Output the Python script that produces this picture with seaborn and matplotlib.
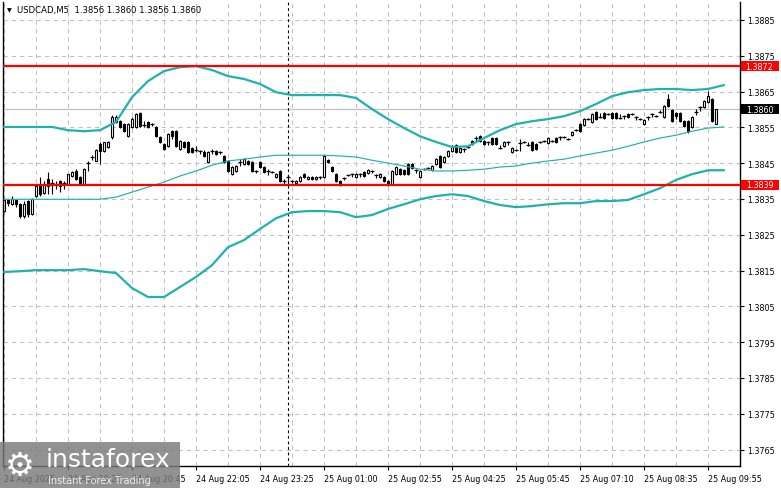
import numpy as np
import pandas as pd
import matplotlib
matplotlib.use('Agg')
import matplotlib.pyplot as plt
import matplotlib.transforms as mtransforms
from matplotlib.patches import Rectangle
import seaborn as sns

# USDCAD M5 candles
opens = [1.38316, 1.38347, 1.38335, 1.38347, 1.38335, 1.38302, 1.38344, 1.38308, 1.38358, 1.38386,
         1.38366, 1.38405, 1.38394, 1.38391, 1.38400, 1.38394, 1.38391, 1.38414, 1.38428, 1.38411,
         1.38391, 1.38450, 1.38467, 1.38456, 1.38503, 1.38484, 1.38495, 1.38523, 1.38565, 1.38567,
         1.38559, 1.38525, 1.38551, 1.38551, 1.38590, 1.38556, 1.38565, 1.38559, 1.38551, 1.38523,
         1.38503, 1.38497, 1.38539, 1.38539, 1.38489, 1.38509, 1.38509, 1.38492, 1.38486, 1.38484,
         1.38481, 1.38453, 1.38484, 1.38484, 1.38481, 1.38470, 1.38456, 1.38419, 1.38428, 1.38453,
         1.38447, 1.38456, 1.38453, 1.38428, 1.38453, 1.38439, 1.38428, 1.38425, 1.38411, 1.38428,
         1.38400, 1.38411, 1.38400, 1.38394, 1.38400, 1.38419, 1.38405, 1.38411, 1.38405, 1.38411,
         1.38411, 1.38458, 1.38439, 1.38419, 1.38400, 1.38408, 1.38416, 1.38419, 1.38411, 1.38419,
         1.38425, 1.38422, 1.38428, 1.38416, 1.38411, 1.38411, 1.38400, 1.38391, 1.38419, 1.38433,
         1.38430, 1.38447, 1.38447, 1.38430, 1.38411, 1.38433, 1.38436, 1.38430, 1.38447, 1.38470,
         1.38453, 1.38470, 1.38484, 1.38500, 1.38481, 1.38489, 1.38495, 1.38511, 1.38520, 1.38525,
         1.38511, 1.38509, 1.38520, 1.38520, 1.38492, 1.38497, 1.38509, 1.38481, 1.38486, 1.38506,
         1.38509, 1.38500, 1.38509, 1.38503, 1.38509, 1.38511, 1.38506, 1.38511, 1.38520, 1.38523,
         1.38523, 1.38517, 1.38528, 1.38542, 1.38559, 1.38556, 1.38573, 1.38565, 1.38592, 1.38578,
         1.38590, 1.38587, 1.38590, 1.38590, 1.38576, 1.38581, 1.38587, 1.38587, 1.38578, 1.38573,
         1.38559, 1.38578, 1.38587, 1.38581, 1.38592, 1.38578, 1.38629, 1.38598, 1.38590, 1.38590,
         1.38567, 1.38567, 1.38551, 1.38592, 1.38606, 1.38606, 1.38620, 1.38629, 1.38560]
closes = [1.38347, 1.38338, 1.38349, 1.38335, 1.38302, 1.38335, 1.38308, 1.38349, 1.38386, 1.38363,
          1.38391, 1.38386, 1.38394, 1.38391, 1.38386, 1.38394, 1.38419, 1.38425, 1.38405, 1.38391,
          1.38433, 1.38450, 1.38467, 1.38486, 1.38484, 1.38509, 1.38509, 1.38578, 1.38578, 1.38551,
          1.38539, 1.38559, 1.38573, 1.38587, 1.38553, 1.38556, 1.38551, 1.38559, 1.38525, 1.38509,
          1.38489, 1.38531, 1.38525, 1.38497, 1.38511, 1.38495, 1.38481, 1.38481, 1.38486, 1.38484,
          1.38470, 1.38481, 1.38484, 1.38475, 1.38481, 1.38453, 1.38428, 1.38439, 1.38442, 1.38453,
          1.38461, 1.38447, 1.38428, 1.38428, 1.38439, 1.38425, 1.38428, 1.38425, 1.38419, 1.38400,
          1.38400, 1.38411, 1.38400, 1.38400, 1.38411, 1.38411, 1.38411, 1.38405, 1.38411, 1.38411,
          1.38470, 1.38453, 1.38428, 1.38400, 1.38391, 1.38408, 1.38416, 1.38419, 1.38419, 1.38419,
          1.38414, 1.38430, 1.38428, 1.38416, 1.38419, 1.38400, 1.38391, 1.38428, 1.38439, 1.38419,
          1.38419, 1.38419, 1.38436, 1.38430, 1.38428, 1.38433, 1.38436, 1.38442, 1.38461, 1.38439,
          1.38467, 1.38484, 1.38497, 1.38481, 1.38492, 1.38489, 1.38495, 1.38503, 1.38520, 1.38511,
          1.38503, 1.38509, 1.38503, 1.38503, 1.38492, 1.38509, 1.38509, 1.38492, 1.38486, 1.38506,
          1.38509, 1.38500, 1.38486, 1.38489, 1.38509, 1.38511, 1.38520, 1.38511, 1.38509, 1.38523,
          1.38523, 1.38517, 1.38537, 1.38542, 1.38539, 1.38573, 1.38573, 1.38587, 1.38573, 1.38578,
          1.38576, 1.38587, 1.38576, 1.38576, 1.38576, 1.38581, 1.38578, 1.38587, 1.38578, 1.38573,
          1.38570, 1.38578, 1.38587, 1.38581, 1.38592, 1.38609, 1.38609, 1.38567, 1.38581, 1.38567,
          1.38553, 1.38539, 1.38578, 1.38592, 1.38606, 1.38623, 1.38637, 1.38567, 1.38600]
highs = [1.38349, 1.38349, 1.38358, 1.38349, 1.38338, 1.38344, 1.38347, 1.38352, 1.38391, 1.38411,
         1.38400, 1.38425, 1.38405, 1.38400, 1.38403, 1.38400, 1.38419, 1.38428, 1.38433, 1.38414,
         1.38436, 1.38456, 1.38472, 1.38489, 1.38509, 1.38509, 1.38511, 1.38584, 1.38584, 1.38570,
         1.38562, 1.38562, 1.38578, 1.38590, 1.38592, 1.38567, 1.38567, 1.38562, 1.38553, 1.38525,
         1.38506, 1.38534, 1.38542, 1.38542, 1.38514, 1.38511, 1.38511, 1.38495, 1.38497, 1.38486,
         1.38486, 1.38484, 1.38489, 1.38486, 1.38484, 1.38472, 1.38458, 1.38442, 1.38444, 1.38461,
         1.38464, 1.38458, 1.38456, 1.38430, 1.38456, 1.38442, 1.38433, 1.38428, 1.38422, 1.38430,
         1.38405, 1.38416, 1.38403, 1.38403, 1.38414, 1.38422, 1.38414, 1.38414, 1.38414, 1.38414,
         1.38472, 1.38461, 1.38442, 1.38422, 1.38403, 1.38411, 1.38419, 1.38422, 1.38422, 1.38422,
         1.38428, 1.38433, 1.38430, 1.38419, 1.38422, 1.38414, 1.38403, 1.38430, 1.38442, 1.38436,
         1.38433, 1.38450, 1.38450, 1.38433, 1.38430, 1.38436, 1.38439, 1.38444, 1.38464, 1.38472,
         1.38470, 1.38486, 1.38500, 1.38503, 1.38495, 1.38492, 1.38497, 1.38514, 1.38525, 1.38528,
         1.38514, 1.38511, 1.38523, 1.38523, 1.38500, 1.38511, 1.38511, 1.38495, 1.38489, 1.38517,
         1.38511, 1.38509, 1.38511, 1.38506, 1.38511, 1.38514, 1.38523, 1.38514, 1.38523, 1.38525,
         1.38525, 1.38520, 1.38539, 1.38545, 1.38562, 1.38576, 1.38576, 1.38590, 1.38595, 1.38590,
         1.38592, 1.38590, 1.38592, 1.38592, 1.38587, 1.38584, 1.38590, 1.38590, 1.38581, 1.38576,
         1.38573, 1.38581, 1.38590, 1.38584, 1.38598, 1.38612, 1.38643, 1.38601, 1.38592, 1.38592,
         1.38570, 1.38570, 1.38581, 1.38601, 1.38609, 1.38626, 1.38651, 1.38632, 1.38600]
lows = [1.38313, 1.38330, 1.38333, 1.38327, 1.38296, 1.38296, 1.38299, 1.38305, 1.38355, 1.38358,
        1.38363, 1.38363, 1.38363, 1.38377, 1.38369, 1.38377, 1.38389, 1.38411, 1.38403, 1.38389,
        1.38389, 1.38428, 1.38458, 1.38456, 1.38447, 1.38481, 1.38492, 1.38517, 1.38562, 1.38548,
        1.38537, 1.38523, 1.38548, 1.38548, 1.38551, 1.38551, 1.38548, 1.38553, 1.38523, 1.38506,
        1.38486, 1.38495, 1.38517, 1.38495, 1.38486, 1.38492, 1.38478, 1.38478, 1.38481, 1.38475,
        1.38467, 1.38450, 1.38475, 1.38472, 1.38475, 1.38450, 1.38425, 1.38416, 1.38425, 1.38442,
        1.38444, 1.38444, 1.38425, 1.38422, 1.38436, 1.38422, 1.38416, 1.38422, 1.38408, 1.38397,
        1.38391, 1.38389, 1.38394, 1.38389, 1.38397, 1.38408, 1.38403, 1.38403, 1.38403, 1.38405,
        1.38408, 1.38450, 1.38425, 1.38397, 1.38386, 1.38403, 1.38414, 1.38411, 1.38408, 1.38411,
        1.38411, 1.38419, 1.38422, 1.38408, 1.38408, 1.38397, 1.38386, 1.38389, 1.38416, 1.38416,
        1.38416, 1.38416, 1.38433, 1.38422, 1.38408, 1.38430, 1.38433, 1.38428, 1.38444, 1.38436,
        1.38450, 1.38467, 1.38481, 1.38478, 1.38478, 1.38481, 1.38492, 1.38500, 1.38509, 1.38509,
        1.38500, 1.38500, 1.38500, 1.38500, 1.38489, 1.38495, 1.38500, 1.38478, 1.38484, 1.38484,
        1.38506, 1.38497, 1.38484, 1.38486, 1.38506, 1.38509, 1.38503, 1.38509, 1.38506, 1.38514,
        1.38520, 1.38514, 1.38525, 1.38539, 1.38537, 1.38553, 1.38570, 1.38562, 1.38570, 1.38576,
        1.38573, 1.38584, 1.38573, 1.38573, 1.38573, 1.38573, 1.38576, 1.38584, 1.38570, 1.38570,
        1.38556, 1.38570, 1.38578, 1.38578, 1.38590, 1.38576, 1.38606, 1.38565, 1.38573, 1.38565,
        1.38551, 1.38534, 1.38548, 1.38584, 1.38595, 1.38604, 1.38618, 1.38565, 1.38560]

# Bollinger bands, read every 4th bar
band_bars = list(range(0, 181, 4))
upper_band = [1.38551, 1.38551, 1.38551, 1.38551, 1.38542, 1.38539, 1.38542, 1.38565, 1.38634, 1.38679,
              1.38707, 1.38718, 1.38721, 1.38710, 1.38693, 1.38685, 1.38671, 1.38648, 1.38640, 1.38640,
              1.38640, 1.38640, 1.38632, 1.38601, 1.38573, 1.38548, 1.38525, 1.38509, 1.38495, 1.38497,
              1.38520, 1.38542, 1.38559, 1.38567, 1.38573, 1.38581, 1.38595, 1.38615, 1.38637, 1.38648,
              1.38654, 1.38657, 1.38657, 1.38654, 1.38657, 1.38668]
middle_band = [1.38349, 1.38349, 1.38349, 1.38349, 1.38349, 1.38349, 1.38349, 1.38355, 1.38369, 1.38383,
               1.38397, 1.38414, 1.38428, 1.38444, 1.38456, 1.38461, 1.38467, 1.38472, 1.38472, 1.38472,
               1.38472, 1.38470, 1.38467, 1.38458, 1.38450, 1.38442, 1.38433, 1.38428, 1.38428, 1.38430,
               1.38433, 1.38439, 1.38442, 1.38450, 1.38456, 1.38461, 1.38470, 1.38478, 1.38486, 1.38497,
               1.38509, 1.38520, 1.38528, 1.38539, 1.38548, 1.38551]
lower_band = [1.38146, 1.38148, 1.38151, 1.38151, 1.38151, 1.38154, 1.38148, 1.38143, 1.38101, 1.38076,
              1.38076, 1.38104, 1.38132, 1.38165, 1.38215, 1.38235, 1.38266, 1.38296, 1.38313, 1.38316,
              1.38316, 1.38313, 1.38299, 1.38305, 1.38322, 1.38335, 1.38349, 1.38358, 1.38363, 1.38358,
              1.38344, 1.38333, 1.38327, 1.38330, 1.38335, 1.38338, 1.38338, 1.38344, 1.38344, 1.38347,
              1.38363, 1.38380, 1.38403, 1.38419, 1.38430, 1.38430]

time_labels = ['24 Aug 2025', '24 Aug 19:25', '24 Aug 20:45', '24 Aug 22:05', '24 Aug 23:25',
               '25 Aug 01:00', '25 Aug 02:55', '25 Aug 04:25', '25 Aug 05:45', '25 Aug 07:10',
               '25 Aug 08:35', '25 Aug 09:55']
label_bars = [0, 16, 32, 48, 64, 80, 96, 112, 128, 144, 160, 176]
price_ticks = [1.3765, 1.3775, 1.3785, 1.3795, 1.3805, 1.3815, 1.3825,
               1.3835, 1.3845, 1.3855, 1.3865, 1.3875, 1.3885]
resistance = 1.3872
support = 1.3839
last_price = 1.3860
day_break_bar = 71

df = pd.DataFrame({'open': opens, 'high': highs, 'low': lows, 'close': closes})
df['bar'] = np.arange(len(df))
bands = pd.DataFrame({'bar': band_bars, 'upper': upper_band,
                      'middle': middle_band, 'lower': lower_band})

sns.set_style('white')
plt.rcParams['font.family'] = ['DejaVu Sans']

fig = plt.figure(figsize=(7.81, 4.89), dpi=100)
ax = fig.add_axes([3/781, 22/489, 737/781, 464/489])

grid_kw = dict(color='#c0c0c0', lw=0.75, ls=(0, (4, 4)))
ax.set_xticks(label_bars)
ax.set_xticks(list(range(8, 181, 8)), minor=True)
ax.set_yticks(price_ticks)
ax.grid(True, which='both', **grid_kw)
ax.set_axisbelow(True)

ax.axhline(last_price, color='#c0c0c0', lw=0.9, zorder=1)
ax.axvline(day_break_bar, color='black', lw=0.8, ls=(0, (2.5, 2.5)), zorder=1.5)

# candles
ax.vlines(df['bar'], df['low'], df['high'], color='black', lw=0.8, zorder=2)
up = df[df['close'] > df['open']]
down = df[df['close'] < df['open']]
doji = df[df['close'] == df['open']]
ax.bar(up['bar'], up['close'] - up['open'], bottom=up['open'], width=0.68,
       color='white', edgecolor='black', lw=0.8, zorder=2.5)
ax.bar(down['bar'], down['open'] - down['close'], bottom=down['close'], width=0.68,
       color='black', edgecolor='black', lw=0.8, zorder=2.5)
ax.hlines(doji['close'], doji['bar'] - 0.4, doji['bar'] + 0.4, color='black', lw=0.9, zorder=2.5)

teal = '#20b2aa'
sns.lineplot(data=bands, x='bar', y='upper', ax=ax, color=teal, lw=1.6, zorder=3)
sns.lineplot(data=bands, x='bar', y='middle', ax=ax, color=teal, lw=0.85, zorder=3)
sns.lineplot(data=bands, x='bar', y='lower', ax=ax, color=teal, lw=1.6, zorder=3)

ax.axhline(resistance, color='red', lw=1.6, zorder=4)
ax.axhline(support, color='red', lw=1.6, zorder=4)

ax.set_xlim(-0.25, 184)
ax.set_ylim(1.37604, 1.38900)
ax.set_xlabel('')
ax.set_ylabel('')

ax.yaxis.tick_right()
ax.set_yticklabels(['%.4f' % p for p in price_ticks])
ax.tick_params(axis='y', which='major', length=3, width=0.8, pad=2,
               labelsize=5.8, colors='black', right=True, left=False)
ax.set_xticklabels(time_labels, ha='left')
ax.tick_params(axis='x', which='major', length=3, width=0.8, pad=3,
               labelsize=5.8, colors='black', bottom=True)
ax.tick_params(axis='x', which='minor', length=0)
for side in ['left', 'bottom', 'right']:
    ax.spines[side].set_visible(True)
    ax.spines[side].set_color('black')
    ax.spines[side].set_linewidth(1)
ax.spines['top'].set_visible(False)

# price boxes on the right scale
trans = mtransforms.blended_transform_factory(ax.transAxes, ax.transData)
box_h = 10 / 35800
for val, col in [(resistance, 'red'), (support, 'red'), (last_price, 'black')]:
    ax.add_patch(Rectangle((1.002, val - box_h / 2), 0.051, box_h, transform=trans,
                           facecolor=col, edgecolor='none', clip_on=False, zorder=6))
    ax.text(1.0265, val, '%.4f' % val, transform=trans, ha='center', va='center',
            fontsize=5.8, color='white', clip_on=False, zorder=7)

# symbol header
fig.text(7/781, 1 - 11/489, '\u25bc', fontsize=4.5, color='black', va='center')
fig.text(17/781, 1 - 11/489, 'USDCAD,M5  1.3856 1.3860 1.3856 1.3860',
         fontsize=6.1, color='black', va='center')

# watermark
fig.patches.append(Rectangle((0, 0), 180/781, 46/489, transform=fig.transFigure,
                             facecolor='#7a7a7a', alpha=0.82, edgecolor='none', zorder=10))
fig.text(5/781, 1 - 466/489, '\u2699', fontsize=24, color='white', va='center', zorder=11)
fig.text(46/781, 1 - 460/489, 'instaforex', fontsize=18, color='white', va='center', zorder=11)
fig.text(48/781, 1 - 481/489, 'Instant Forex Trading', fontsize=7, color='#eeeeee',
         va='center', zorder=11)

fig.savefig('out.png', dpi=100, facecolor='white')
